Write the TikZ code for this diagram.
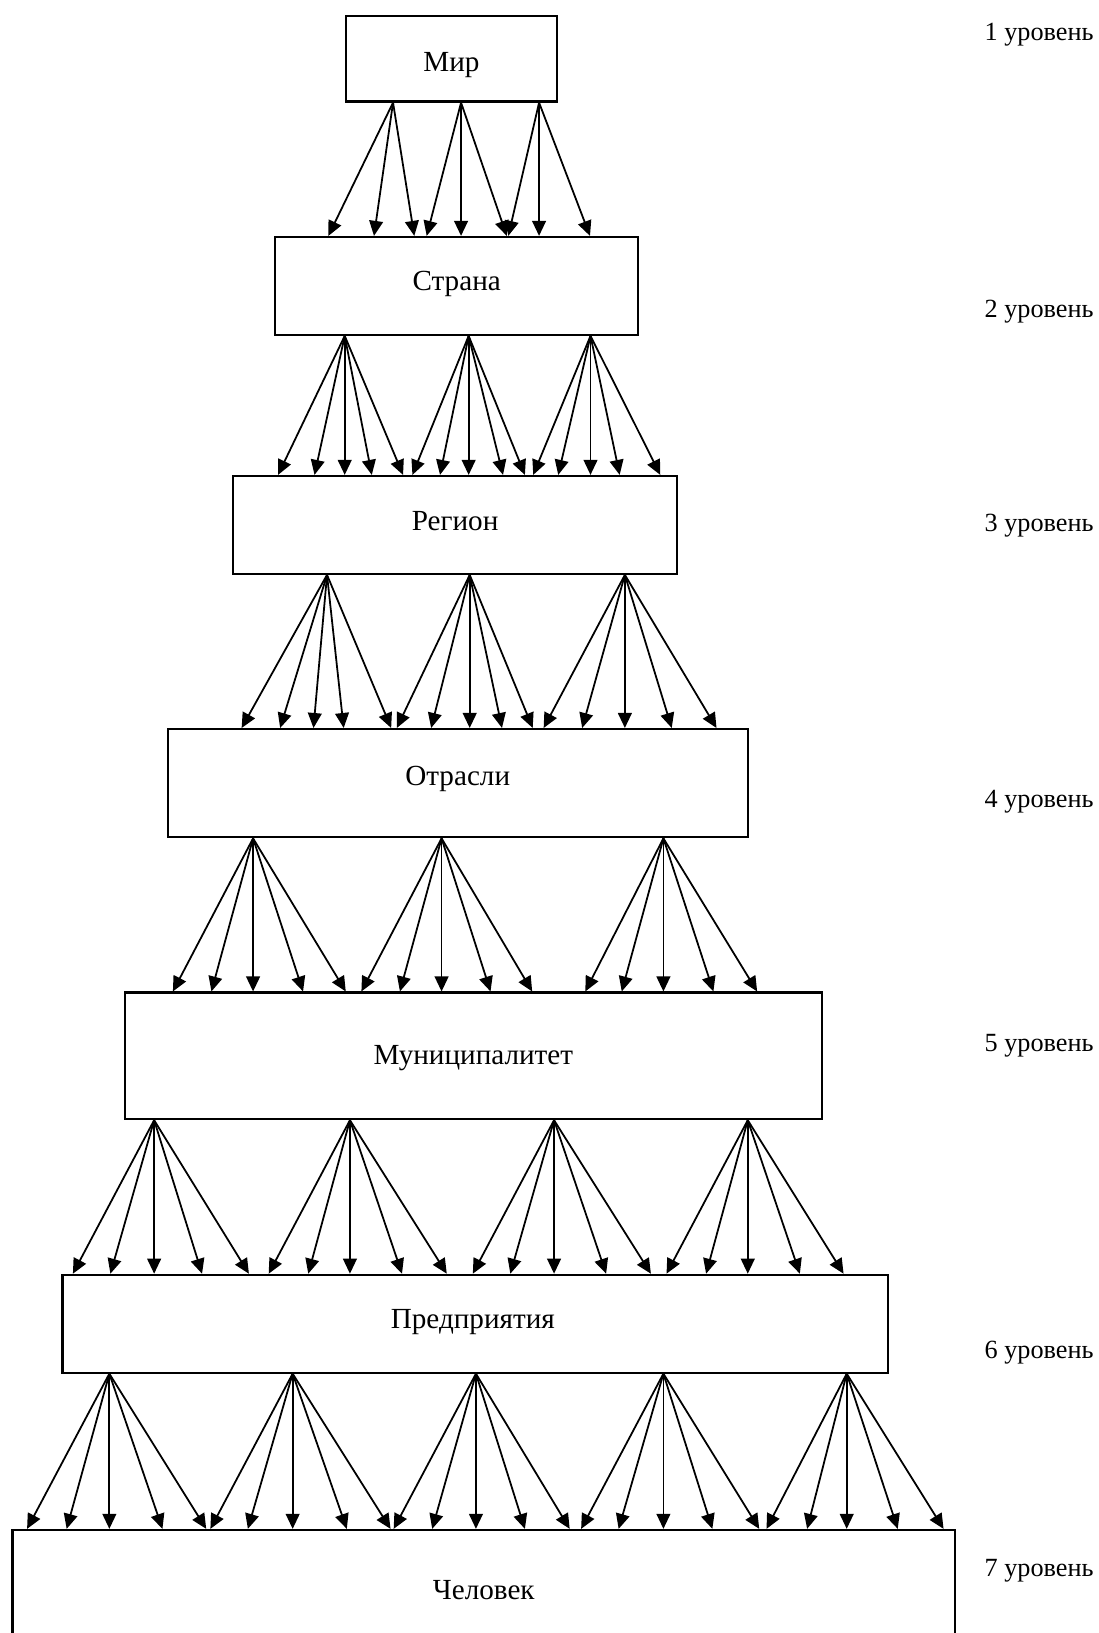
\documentclass[tikz,border=0pt]{standalone}
\usepackage{fontspec}
\setmainfont{Liberation Serif}
\usetikzlibrary{arrows.meta}
\begin{document}
\begin{tikzpicture}[x=0.5pt,y=-0.5pt,
  box/.style={draw, line width=1pt, rectangle, inner sep=0pt},
  arr/.style={-{Triangle[length=7.2pt,width=6.6pt]}, line width=0.85pt},
  txt/.style={font=\fontsize{14}{17}\selectfont, anchor=base, inner sep=0pt},
  lvl/.style={font=\fontsize{12.6}{15}\selectfont, anchor=base west, inner sep=0pt}]
\fill[white] (0,0) rectangle (1054.4,1568);
\useasboundingbox (0,0) rectangle (1054.4,1568);

% boxes
\node[box, minimum width=101.5pt, minimum height=41pt]   (mir)    at (433.5,56.5) {};
\node[box, minimum width=174.5pt, minimum height=47pt]   (strana) at (438.5,274.5) {};
\node[box, minimum width=213pt,   minimum height=47pt]   (region) at (437,504) {};
\node[box, minimum width=278.5pt, minimum height=52pt]   (otr)    at (439.5,752) {};
\node[box, minimum width=334.5pt, minimum height=60.8pt] (mun)    at (454.5,1013.8) {};
\node[box, minimum width=396.25pt,minimum height=47pt]   (pred)   at (456.25,1271) {};
\node[box, minimum width=452.5pt, minimum height=65.5pt] (chel)   at (464.5,1534.5) {};

% box texts
\node[txt] (tmir)    at (433.5,69)   {Мир};
\node[txt] (tstrana) at (438.5,279)  {Страна};
\node[txt] (tregion) at (437,509)    {Регион};
\node[txt] (totr)    at (439.5,754)  {Отрасли};
\node[txt] (tmun)    at (454.5,1022) {Муниципалитет};
\node[txt] (tpred)   at (454,1276)   {Предприятия};
\node[txt] (tchel)   at (464.5,1536) {Человек};

% level labels
\node[lvl] (l1) at (945,39)   {1 уровень};
\node[lvl] (l2) at (945,305)  {2 уровень};
\node[lvl] (l3) at (945,510)  {3 уровень};
\node[lvl] (l4) at (945,775)  {4 уровень};
\node[lvl] (l5) at (945,1010) {5 уровень};
\node[lvl] (l6) at (945,1304) {6 уровень};
\node[lvl] (l7) at (945,1514) {7 уровень};

% arrows level 1 -> 2
\foreach \s/\tl in {377.4/{315.3,359.1,397.8},442.7/{409.7,442.7,486.6},517.6/{488.1,517.6,566.5}}
  \foreach \t in \tl \draw[arr] (mir.south -| \s,0) -- (strana.north -| \t,0);
% arrows level 2 -> 3
\foreach \s/\tl in {331/{267,302,331,357,387},450/{396,422.5,450,483,504},567/{512,536,567,595,634}}
  \foreach \t in \tl \draw[arr] (strana.south -| \s,0) -- (region.north -| \t,0);
% arrows level 3 -> 4
\foreach \s/\tl in {314/{232,269,301,330,375.6},451/{381,414,451,482,511.5},600/{522,559,600,645,688}}
  \foreach \t in \tl \draw[arr] (region.south -| \s,0) -- (otr.north -| \t,0);
% arrows level 4 -> 5
\foreach \s/\tl in {243/{166,203,243,291,332},424/{347,384,424,471,511},637/{562,597,637,685,727}}
  \foreach \t in \tl \draw[arr] (otr.south -| \s,0) -- (mun.north -| \t,0);
% arrows level 5 -> 6
\foreach \s/\tl in {148/{70,106,148,194,239},336/{258,296,336,386,429},532/{454,490,532,582,625},718/{640,678,718,768,810}}
  \foreach \t in \tl \draw[arr] (mun.south -| \s,0) -- (pred.north -| \t,0);
% arrows level 6 -> 7
\foreach \s/\tl in {105/{26,64,105,156,198},281/{202,238,281,333,375},457/{378,415,457,504,547},637/{558,594,637,684,729},813/{736,775,813,862,906}}
  \foreach \t in \tl \draw[arr] (pred.south -| \s,0) -- (chel.north -| \t,0);
\end{tikzpicture}
\end{document}
